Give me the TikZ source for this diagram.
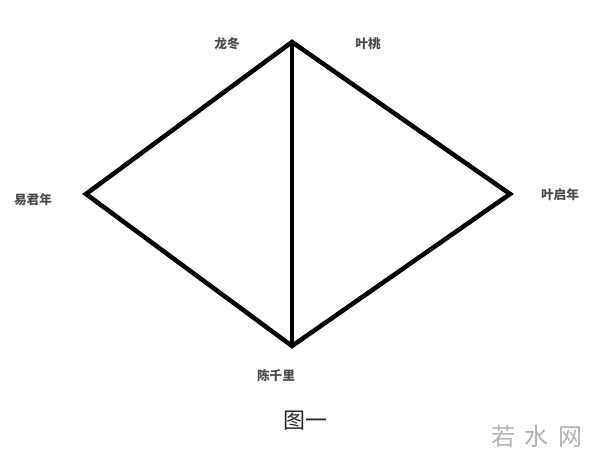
\documentclass[tikz,border=0pt]{standalone}
\usepackage{fontspec}
\newfontfamily\cjk{Noto Sans CJK SC}
\begin{document}
\begin{tikzpicture}[x=0.75pt,y=-0.75pt,
  edge/.style={line width=3.4pt,line join=miter,line cap=butt},
  lbl/.style={font=\cjk\fontsize{9.5}{11}\selectfont\bfseries,text=black!70},
  pt/.style={inner sep=0pt,minimum size=0pt}]
\useasboundingbox (0,0) rectangle (600,457);
\node[pt] (top) at (292,42) {};
\node[pt] (left) at (86,194) {};
\node[pt] (right) at (510,194) {};
\node[pt] (bot) at (292,346) {};
\draw[edge] (top.center) -- (right.center) -- (bot.center) -- (left.center) -- cycle;
\draw[edge] (top.center) -- (bot.center);
\node[lbl] (l1) at (227,44) {龙冬};
\node[lbl] (l2) at (368,44) {叶桃};
\node[lbl] (l3) at (33,200) {易君年};
\node[lbl] (l4) at (560,195) {叶启年};
\node[lbl] (l5) at (276,376) {陈千里};
\node[font=\cjk\fontsize{16.5}{18}\selectfont,text=black!85] (cap) at (305,421) {图一};
\node[font=\cjk\fontsize{18}{19}\selectfont,text=black!30] (wm) at (537,436) {若\hspace{7pt}水\hspace{7pt}网};
\end{tikzpicture}
\end{document}
